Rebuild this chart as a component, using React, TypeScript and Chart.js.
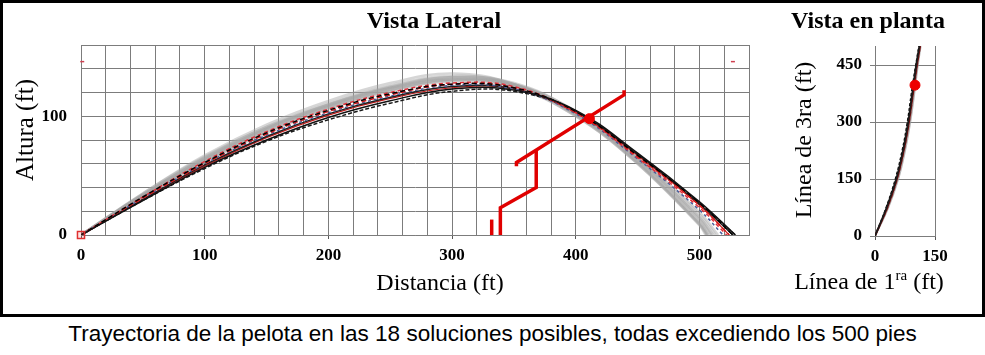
import React, { useEffect, useRef } from "react";
import { Chart, registerables } from "chart.js";

Chart.register(...registerables);

const SERIF = "'Liberation Serif', 'Times New Roman', Times, serif";
const SANS = "'Liberation Sans', Arial, Helvetica, sans-serif";

// ---------- Vista Lateral (distance ft vs height ft) ----------
const LAT_X = [0, 50, 100, 150, 200, 250, 300, 350, 400, 450, 500];

// gray solutions (heights at LAT_X), landing distances
const GRAY_1 = [0, 35, 67, 93, 113, 128, 136, 127, 101, 61, 9];
const GRAY_2 = [0, 34, 65, 91, 111, 126, 134, 127, 102, 62, 11];
const GRAY_3 = [0, 33, 64, 90, 110, 125, 133, 127, 103, 64, 14];
const GRAY_4 = [0, 35, 66, 91, 110, 124, 131, 125, 100, 60, 8];
const GRAY_5 = [0, 33, 63, 88, 108, 123, 131, 126, 102, 63, 13];
const GRAY_6 = [0, 32, 62, 87, 107, 122, 131, 127, 104, 65, 17];
const GRAY_7 = [0, 34, 65, 90, 109, 124, 132, 126, 101, 61, 10];
const GRAY_8 = [0, 33, 63, 89, 109, 124, 133, 128, 104, 66, 19];
const GRAY_9 = [0, 32, 61, 86, 106, 121, 130, 126, 103, 64, 15];
const GRAY_10 = [0, 34, 64, 89, 108, 122, 129, 124, 100, 60, 9];
const GRAY_LAND = [506, 507, 510, 505, 509, 513, 507, 515, 511, 506];

// highlighted solutions
const BLACK_1 = [0, 29, 57, 80, 99, 113, 123, 122, 105, 69, 28];
const BLACK_2 = [0, 32, 61, 86, 105, 119, 127, 124, 104, 67, 27];
const RED_1 = [0, 31, 60, 85, 104, 118, 127, 124, 103, 66, 25];
const RED_2 = [0, 32, 62, 87, 106, 120, 128, 125, 103, 65, 23];
const BLUE_1 = [0, 31, 60, 84, 103, 117, 126, 123, 102, 64, 21];
const BLACK_3 = [0, 29, 56, 79, 97, 111, 121, 121, 104, 68, 27];
const BLACK_4 = [0, 30, 59, 83, 102, 116, 125, 123, 104, 68, 26];
const RED_3 = [0, 30, 58, 82, 101, 115, 124, 123, 103, 67, 25];
const COLOR_LAND = [529, 527, 524, 522, 519, 529, 527, 524];

// wall / stands profile (red)
const WALL_A_X = [332, 332];
const WALL_A_Y = [0, 13];
const WALL_B_X = [339, 339, 368, 368];
const WALL_B_Y = [0, 23, 40, 71];
const WALL_C_X = [352, 352, 439, 439];
const WALL_C_Y = [58, 61, 118, 122];
const LAT_HIT = { x: 411, y: 98 };
const LAT_MARKS_X = [1, 527];
const LAT_MARKS_Y = [146, 146];

// ---------- Vista en planta ----------
const PLAN_Y = [0, 75, 150, 225, 300, 375, 450, 500];
const PLAN_1 = [0, 29, 53, 70, 83, 93, 103, 111];
const PLAN_2 = [0, 31, 55, 72, 85, 95, 105, 113];
const PLAN_3 = [0, 33, 58, 75, 88, 98, 107, 114];
const PLAN_4 = [0, 30, 54, 71, 84, 94, 104, 112];
const PLAN_5 = [0, 28, 51, 68, 81, 91, 102, 110];
const PLAN_6 = [0, 32, 56, 73, 86, 96, 106, 113];
const PLAN_HIT = { x: 100, y: 397 };

const CAPTION =
  "Trayectoria de la pelota en las 18 soluciones posibles, todas excediendo los 500 pies";

const GRID = "#7c7c7c";
const TICK_FONT = { family: SERIF, size: 17, weight: "bold" as const };

const latPts = (h: number[], land: number) =>
  [...LAT_X.map((x, i) => ({ x, y: h[i] })), { x: land, y: 0 }];
const zip = (xs: number[], ys: number[]) => xs.map((x, i) => ({ x, y: ys[i] }));

type TextItem = {
  text?: string;
  parts?: { text: string; font: string; rise?: number }[];
  x: number;
  y: number;
  font?: string;
  rotate?: boolean;
};

const makeTextPlugin = (items: TextItem[]) => ({
  id: "texts",
  afterDraw(chart: any) {
    const ctx = chart.ctx as CanvasRenderingContext2D;
    for (const t of items) {
      ctx.save();
      ctx.fillStyle = "#000";
      ctx.textBaseline = "alphabetic";
      ctx.translate(t.x, t.y);
      if (t.rotate) ctx.rotate(-Math.PI / 2);
      if (t.parts) {
        let total = 0;
        const widths = t.parts.map((p) => {
          ctx.font = p.font;
          const w = ctx.measureText(p.text).width;
          total += w;
          return w;
        });
        let cx = -total / 2;
        ctx.textAlign = "left";
        t.parts.forEach((p, i) => {
          ctx.font = p.font;
          ctx.fillText(p.text, cx, -(p.rise || 0));
          cx += widths[i];
        });
      } else {
        ctx.font = t.font || `16px ${SERIF}`;
        ctx.textAlign = "center";
        ctx.fillText(t.text || "", 0, 0);
      }
      ctx.restore();
    }
  },
});

const lineDs = (data: any[], color: string, width: number, dash: number[] = [], order = 0) => ({
  data,
  borderColor: color,
  backgroundColor: color,
  borderWidth: width,
  borderDash: dash,
  pointRadius: 0,
  showLine: true,
  fill: false,
  tension: 0.4,
  order,
});

function LateralChart() {
  const ref = useRef<HTMLCanvasElement>(null);
  useEffect(() => {
    if (!ref.current) return;
    const grays = [GRAY_1, GRAY_2, GRAY_3, GRAY_4, GRAY_5, GRAY_6, GRAY_7, GRAY_8, GRAY_9, GRAY_10];
    const colored: [number[], string, number, number[]][] = [
      [BLACK_1, "#111111", 1.5, []],
      [BLACK_2, "#000000", 1.5, [5, 3]],
      [RED_1, "#d81c1c", 1.5, [5, 3]],
      [RED_2, "#e0303a", 1.5, [4, 3]],
      [BLUE_1, "#4a5f9a", 1.5, [3, 3]],
      [BLACK_3, "#1a1a1a", 1.5, [4, 2]],
      [BLACK_4, "#202020", 1.5, []],
      [RED_3, "#c81818", 1.2, []],
    ];
    const datasets: any[] = [];
    datasets.push({
      data: [LAT_HIT],
      pointRadius: 5,
      pointBackgroundColor: "#ee0000",
      pointBorderColor: "#ee0000",
      showLine: false,
      order: 0,
    });
    [[WALL_A_X, WALL_A_Y], [WALL_B_X, WALL_B_Y], [WALL_C_X, WALL_C_Y]].forEach(([xs, ys]) =>
      datasets.push({
        data: zip(xs, ys),
        borderColor: "#e00000",
        borderWidth: 3.5,
        pointRadius: 0,
        showLine: true,
        tension: 0,
        borderJoinStyle: "miter",
        order: 1,
      })
    );
    datasets.push({
      data: [{ x: 0, y: 0 }],
      pointStyle: "rect",
      pointRadius: 5,
      pointBorderColor: "#e03030",
      pointBackgroundColor: "rgba(255,80,80,0.15)",
      pointBorderWidth: 1.5,
      showLine: false,
      clip: false,
      order: 1,
    });
    datasets.push({
      data: zip(LAT_MARKS_X, LAT_MARKS_Y),
      pointStyle: "line",
      pointRadius: 2,
      pointBorderColor: "#d04050",
      pointBorderWidth: 1.5,
      showLine: false,
      clip: false,
      order: 1,
    });
    colored.forEach(([h, c, w, d], i) => datasets.push(lineDs(latPts(h, COLOR_LAND[i]), c, w, d, 2)));
    grays.forEach((h, i) =>
      datasets.push(lineDs(latPts(h, GRAY_LAND[i]), "rgba(165,165,165,0.45)", 2.5, [], 3))
    );

    const chart = new Chart(ref.current, {
      type: "line",
      data: { datasets },
      options: {
        animation: false,
        responsive: false,
        maintainAspectRatio: false,
        layout: { padding: { left: 0, right: 21, top: 45, bottom: 0 } },
        plugins: { legend: { display: false }, tooltip: { enabled: false } },
        scales: {
          x: {
            type: "linear",
            min: 0,
            max: 540,
            afterFit: (s: any) => {
              s.height = 82;
            },
            ticks: {
              stepSize: 20,
              autoSkip: false,
              maxRotation: 0,
              padding: 6,
              color: "#000",
              font: TICK_FONT,
              callback: (v: any) => (Number(v) % 100 === 0 ? String(v) : ""),
            },
            grid: {
              color: GRID,
              lineWidth: 1,
              drawTicks: true,
              tickLength: 4,
              tickColor: (c: any) =>
                c.tick && c.tick.value % 100 === 0 ? "#555" : "rgba(0,0,0,0)",
            },
            border: { color: GRID },
          },
          y: {
            type: "linear",
            min: 0,
            max: 160,
            afterFit: (s: any) => {
              s.width = 81;
            },
            ticks: {
              stepSize: 20,
              autoSkip: false,
              padding: 14,
              color: "#000",
              font: TICK_FONT,
              callback: (v: any) => (Number(v) % 100 === 0 ? String(v) : ""),
            },
            grid: { color: GRID, lineWidth: 1, drawTicks: false },
            border: { color: GRID },
          },
        },
      } as any,
      plugins: [
        makeTextPlugin([
          { text: "Vista Lateral", x: 434, y: 28, font: `bold 24px ${SERIF}` },
          { text: "Altura (ft)", x: 33, y: 130, rotate: true, font: `25px ${SERIF}` },
          { text: "Distancia (ft)", x: 440, y: 290, font: `24px ${SERIF}` },
        ]),
      ],
    });
    return () => chart.destroy();
  }, []);
  return (
    <canvas
      ref={ref}
      width={770}
      height={317}
      style={{ position: "absolute", left: 0, top: 0, width: 770, height: 317 }}
    />
  );
}

function PlanChart() {
  const ref = useRef<HTMLCanvasElement>(null);
  useEffect(() => {
    if (!ref.current) return;
    const series: [number[], string, number, number[]][] = [
      [PLAN_1, "#1a1a1a", 1.8, []],
      [PLAN_2, "#7a1010", 1.8, []],
      [PLAN_3, "rgba(150,150,150,0.7)", 2, []],
      [PLAN_4, "#c02020", 1.5, [4, 2]],
      [PLAN_5, "#000000", 1.5, [3, 2]],
      [PLAN_6, "#9a2020", 1.5, [4, 3]],
    ];
    const datasets: any[] = [
      {
        data: [PLAN_HIT],
        pointRadius: 5,
        pointBackgroundColor: "#ee0000",
        pointBorderColor: "#ee0000",
        showLine: false,
        clip: false,
        order: 0,
      },
    ];
    series.forEach(([xs, c, w, d]) => datasets.push(lineDs(zip(xs, PLAN_Y), c, w, d, 1)));

    const chart = new Chart(ref.current, {
      type: "line",
      data: { datasets },
      options: {
        animation: false,
        responsive: false,
        maintainAspectRatio: false,
        layout: { padding: { left: 0, right: 50, top: 46, bottom: 0 } },
        plugins: { legend: { display: false }, tooltip: { enabled: false } },
        scales: {
          x: {
            type: "linear",
            min: 0,
            max: 150,
            afterFit: (s: any) => {
              s.height = 81;
            },
            ticks: {
              stepSize: 150,
              autoSkip: false,
              maxRotation: 0,
              padding: 6,
              color: "#000",
              font: TICK_FONT,
            },
            grid: { color: GRID, lineWidth: 1, drawTicks: true, tickLength: 4, tickColor: "#555" },
            border: { color: GRID },
          },
          y: {
            type: "linear",
            min: 0,
            max: 500,
            afterFit: (s: any) => {
              s.width = 95;
            },
            ticks: {
              stepSize: 150,
              includeBounds: false,
              autoSkip: false,
              padding: 8,
              color: "#000",
              font: TICK_FONT,
            },
            grid: { color: GRID, lineWidth: 1, drawTicks: true, tickLength: 5 },
            border: { color: GRID },
          },
        },
      } as any,
      plugins: [
        makeTextPlugin([
          { text: "Vista en planta", x: 88, y: 28, font: `bold 24px ${SERIF}` },
          { text: "Línea de 3ra (ft)", x: 31, y: 140, rotate: true, font: `24px ${SERIF}` },
          {
            parts: [
              { text: "Línea de 1", font: `24px ${SERIF}` },
              { text: "ra", font: `15px ${SERIF}`, rise: 9 },
              { text: " (ft)", font: `24px ${SERIF}` },
            ],
            x: 89,
            y: 289,
          },
        ]),
      ],
    });
    return () => chart.destroy();
  }, []);
  return (
    <canvas
      ref={ref}
      width={205}
      height={317}
      style={{ position: "absolute", left: 780, top: 0, width: 205, height: 317 }}
    />
  );
}

export default function App() {
  return (
    <div style={{ position: "relative", width: 985, height: 355, background: "#fff" }}>
      <style>{`html,body{margin:0;padding:0;background:#fff;}`}</style>
      <div
        style={{
          position: "absolute",
          left: 0,
          top: 0,
          width: 985,
          height: 317,
          boxSizing: "border-box",
          border: "3px solid #000",
        }}
      />
      <LateralChart />
      <PlanChart />
      <div
        style={{
          position: "absolute",
          left: 0,
          top: 321,
          width: 985,
          textAlign: "center",
          fontFamily: SANS,
          fontSize: 22.5,
          lineHeight: "26px",
          color: "#000",
          whiteSpace: "nowrap",
        }}
      >
        {CAPTION}
      </div>
    </div>
  );
}
